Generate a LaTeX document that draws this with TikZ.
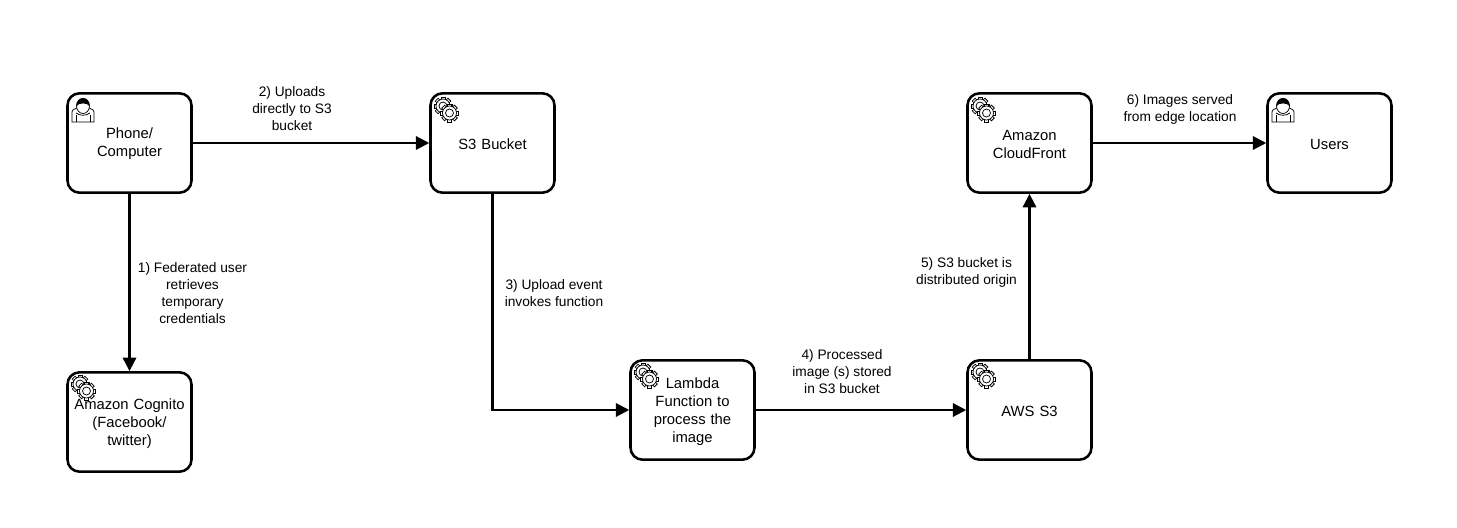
\documentclass[tikz,border=0pt]{standalone}
\usepackage{fontspec}
\setmainfont{Liberation Sans}
\usetikzlibrary{arrows.meta}

\tikzset{
  taskbox/.style={draw,line width=1.9pt,rounded corners=9pt,fill=white,minimum width=93pt,minimum height=74.5pt,align=center,inner sep=0pt,text width=85pt,font=\fontsize{11.1}{13.5}\selectfont,execute at begin node={\rule{0pt}{9.8pt}}},
  flowlabel/.style={align=center,inner sep=0pt,font=\fontsize{10.3}{12.75}\selectfont},
  flow/.style={line width=1.6pt,-{Triangle[length=10pt,width=10pt]}},
  cog/.pic={
    \foreach \a in {0,45,...,315}
      \draw[rotate=\a,fill=white,line width=.55pt] (-2,6) rectangle (2,9);
    \draw[fill=white,line width=.55pt] (0,0) circle (7);
    \draw[fill=white,line width=.55pt] (0,0) circle (4);
  },
  gears/.pic={
    \pic at (-4,4) {cog};
    \pic at (2.5,-3) {cog};
  },
  person/.pic={
    \draw[line width=.55pt,fill=white] (-11,-12) -- (-11,-2) .. controls (-11,1) and (-6,1.5) .. (-4,3) -- (4,3) .. controls (6,1.5) and (11,1) .. (11,-2) -- (11,-12) -- cycle;
    \draw[line width=.55pt] (-7,-12) -- (-7,-5) (7,-12) -- (7,-5);
    \draw[line width=.55pt] (-7,-3) .. controls (-3,-6) and (3,-6) .. (7,-3);
    \draw[line width=.55pt,fill=white] (0,4) ellipse (6.5 and 7.5);
    \fill (-6.5,4) .. controls (-7,14.5) and (7,14.5) .. (6.5,4) .. controls (4,7.5) and (-4,7.5) .. (-6.5,4) -- cycle;
  },
}

\begin{document}
\begin{tikzpicture}[x=0.75pt,y=0.75pt,yscale=-1]
\useasboundingbox (0,0) rectangle (1457,528);

% Tasks
\node[taskbox] (phone) at (129.5,143) {Phone/\\Computer};
\node[taskbox] (bucket) at (492.5,143) {S3 Bucket};
\node[taskbox] (cognito) at (129.5,422) {Amazon Cognito\\(Facebook/\\twitter)};
\node[taskbox] (lambda) at (692.5,410) {Lambda\\Function to\\process the\\image};
\node[taskbox] (awss) at (1029.5,410) {AWS S3};
\node[taskbox] (cloudfront) at (1029.5,143) {Amazon\\CloudFront};
\node[taskbox] (users) at (1329.5,143) {Users};

% Flows
\draw[flow] (phone) -- (bucket);
\draw[flow] (phone) -- (cognito);
\draw[flow] (bucket) |- (lambda);
\draw[flow] (lambda) -- (awss);
\draw[flow] (awss) -- (cloudfront);
\draw[flow] (cloudfront) -- (users);

% Icons
\pic at (83,110) {person};
\pic at (1283,110) {person};
\pic at (447,110) {gears};
\pic at (84,388) {gears};
\pic at (647,376) {gears};
\pic at (984,110) {gears};
\pic at (984,376) {gears};

% Labels
\node[flowlabel] (lb1) at (192.5,293.5) {1) Federated user\\retrieves\\temporary\\credentials};
\node[flowlabel] (lb2) at (292,109) {2) Uploads\\directly to S3\\bucket};
\node[flowlabel] (lb3) at (554,293) {3) Upload event\\invokes function};
\node[flowlabel] (lb4) at (842,371.5) {4) Processed\\image (s) stored\\in S3 bucket};
\node[flowlabel] (lb5) at (966.5,272) {5) S3 bucket is\\distributed origin};
\node[flowlabel] (lb6) at (1180,109) {6) Images served\\from edge location};
\end{tikzpicture}
\end{document}
